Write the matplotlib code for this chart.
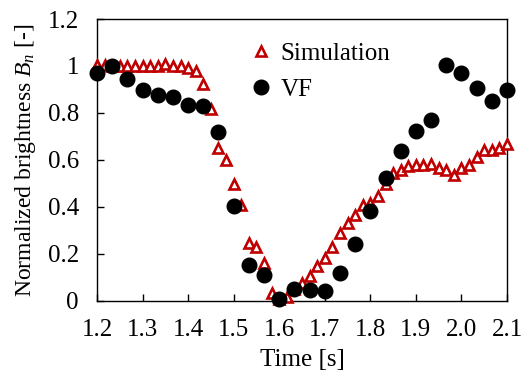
import matplotlib
matplotlib.use("Agg")
import matplotlib.pyplot as plt
import numpy as np

plt.rcParams['font.family'] = ['Liberation Serif', 'DejaVu Serif']
plt.rcParams['mathtext.fontset'] = 'custom'
plt.rcParams['mathtext.it'] = 'Liberation Serif:italic'
plt.rcParams['mathtext.rm'] = 'Liberation Serif'

# Simulation (60 fps), t from 1.2 s
sim_t0 = 1.2
sim_dt = 1.0 / 60.0
sim_values = [1.005, 1.005, 1.0, 0.998, 0.998, 0.998, 0.998, 0.998, 0.998, 1.008,
              0.998, 0.998, 0.99, 0.98, 0.924, 0.815, 0.653, 0.60, 0.497, 0.408,
              0.248, 0.228, 0.163, 0.036, 0.01, 0.015, 0.05, 0.075, 0.107, 0.148,
              0.183, 0.229, 0.291, 0.33, 0.365, 0.41, 0.415, 0.447, 0.497, 0.543,
              0.556, 0.574, 0.579, 0.579, 0.585, 0.567, 0.556, 0.537, 0.567, 0.578,
              0.612, 0.642, 0.642, 0.652, 0.668]

# VF (30 fps), t from 1.2 s
vf_t0 = 1.2
vf_dt = 1.0 / 30.0
vf_values = [0.97, 1.00, 0.945, 0.898, 0.875, 0.869, 0.836, 0.83, 0.72, 0.405,
             0.153, 0.112, 0.007, 0.052, 0.045, 0.042, 0.118, 0.243, 0.382, 0.525,
             0.64, 0.722, 0.772, 1.005, 0.97, 0.905, 0.852, 0.898]

x_ticks = [1.2, 1.3, 1.4, 1.5, 1.6, 1.7, 1.8, 1.9, 2.0, 2.1]
x_ticklabels = ["1.2", "1.3", "1.4", "1.5", "1.6", "1.7", "1.8", "1.9", "2.0", "2.1"]
y_ticks = [0, 0.2, 0.4, 0.6, 0.8, 1.0, 1.2]
y_ticklabels = ["0", "0.2", "0.4", "0.6", "0.8", "1", "1.2"]

sim_t = sim_t0 + sim_dt * np.arange(len(sim_values))
vf_t = vf_t0 + vf_dt * np.arange(len(vf_values))

fig = plt.figure(figsize=(5.22, 3.80), dpi=100)
ax = fig.add_axes([0.1858, 0.2079, 0.7855, 0.7421])

ax.plot(sim_t, sim_values, linestyle='none', marker='^', markersize=7,
        markerfacecolor='white', markeredgecolor='#C00000', markeredgewidth=1.9,
        clip_on=False, label='Simulation', zorder=3)
ax.plot(vf_t, vf_values, linestyle='none', marker='o', markersize=10.5,
        markerfacecolor='black', markeredgecolor='black',
        clip_on=False, label='VF', zorder=4)

ax.set_xlim(1.2, 2.1)
ax.set_ylim(0, 1.2)
ax.set_xticks(x_ticks)
ax.set_xticklabels(x_ticklabels)
ax.set_yticks(y_ticks)
ax.set_yticklabels(y_ticklabels)
ax.tick_params(direction='in', length=5, width=1, labelsize=18,
               top=False, right=False)
ax.tick_params(axis='x', pad=13)
ax.tick_params(axis='y', pad=13)
for s in ax.spines.values():
    s.set_linewidth(1.0)

ax.set_xlabel('Time [s]', fontsize=18, labelpad=6)
ax.set_ylabel('Normalized brightness $B_n$ [-]', fontsize=17, labelpad=7)

ax.legend(loc='upper left', bbox_to_anchor=(0.325, 0.98), frameon=False,
          fontsize=18, labelspacing=0.55, handletextpad=0.2, handlelength=1.1,
          borderpad=0.2)

fig.savefig('out.png', dpi=100)
